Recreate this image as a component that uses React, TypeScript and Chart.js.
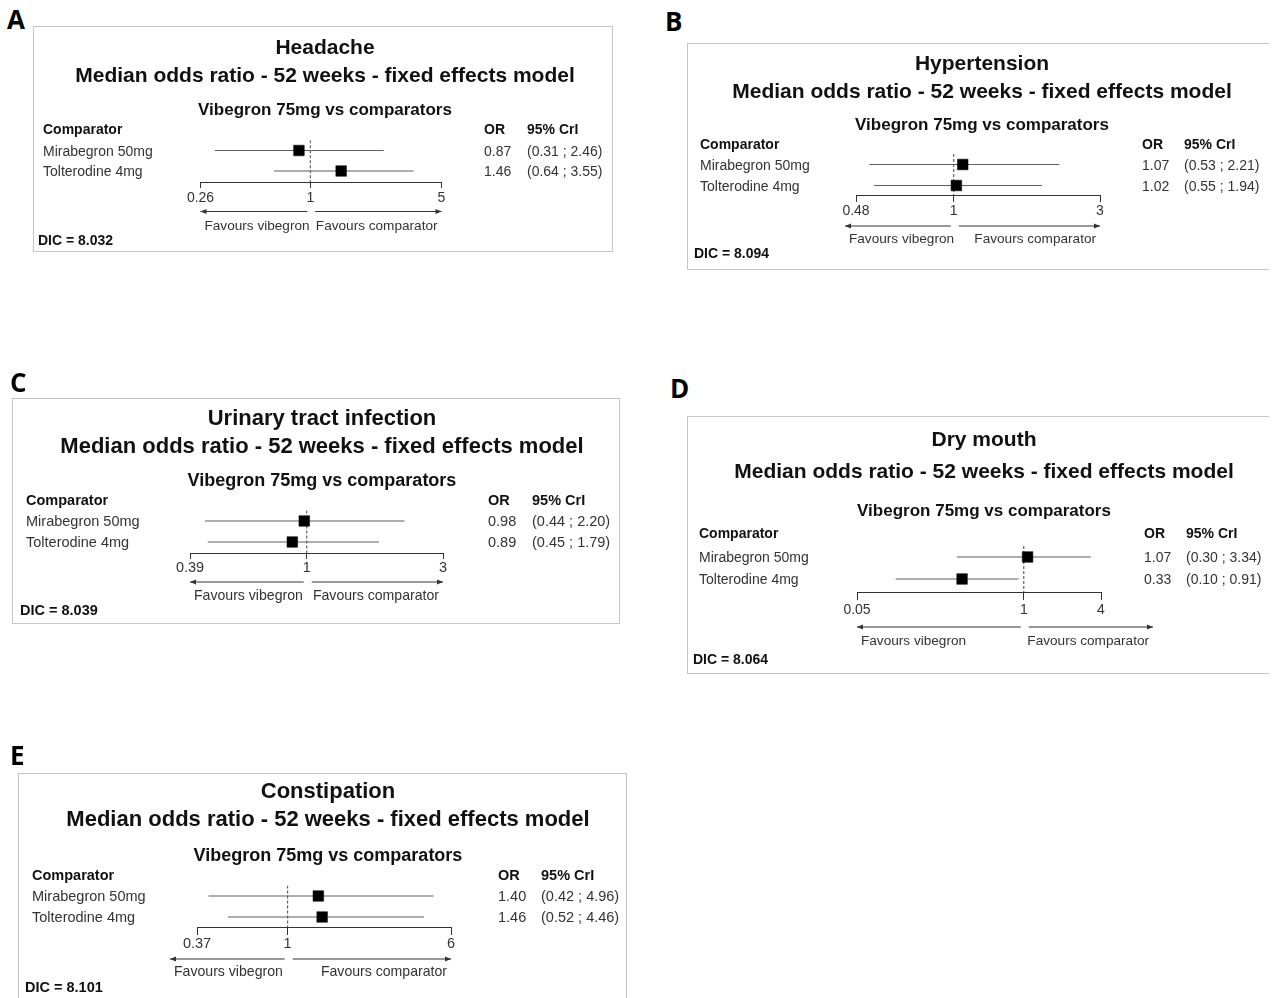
import React, { useEffect, useRef } from "react";
import { Chart, registerables } from "chart.js";

Chart.register(...registerables);

const FONT = "'Liberation Sans', Arial, Helvetica, sans-serif";
const LETTER_FONT = "'Open Sans', 'Liberation Sans', sans-serif";

// ---------------- data ----------------
const comparators = ["Mirabegron 50mg", "Tolterodine 4mg"];
const panelLetters = ["A", "B", "C", "D", "E"];
const outcomes = ["Headache", "Hypertension", "Urinary tract infection", "Dry mouth", "Constipation"];
const modelTitle = "Median odds ratio - 52 weeks - fixed effects model";
const comparisonTitle = "Vibegron 75mg vs comparators";
const leftLabel = "Favours vibegron";
const rightLabel = "Favours comparator";
const dicValues = ["8.032", "8.094", "8.039", "8.064", "8.101"];

const headacheOR = [0.87, 1.46];
const headacheLow = [0.31, 0.64];
const headacheHigh = [2.46, 3.55];
const headacheTicks = [0.26, 1, 5];
const headacheTickLabels = ["0.26", "1", "5"];

const hypertensionOR = [1.07, 1.02];
const hypertensionLow = [0.53, 0.55];
const hypertensionHigh = [2.21, 1.94];
const hypertensionTicks = [0.48, 1, 3];
const hypertensionTickLabels = ["0.48", "1", "3"];

const utiOR = [0.98, 0.89];
const utiLow = [0.44, 0.45];
const utiHigh = [2.2, 1.79];
const utiTicks = [0.39, 1, 3];
const utiTickLabels = ["0.39", "1", "3"];

const dryMouthOR = [1.07, 0.33];
const dryMouthLow = [0.3, 0.1];
const dryMouthHigh = [3.34, 0.91];
const dryMouthTicks = [0.05, 1, 4];
const dryMouthTickLabels = ["0.05", "1", "4"];

const constipationOR = [1.4, 1.46];
const constipationLow = [0.42, 0.52];
const constipationHigh = [4.96, 4.46];
const constipationTicks = [0.37, 1, 6];
const constipationTickLabels = ["0.37", "1", "6"];

const panelData = [
  { or: headacheOR, low: headacheLow, high: headacheHigh, ticks: headacheTicks, tickLabels: headacheTickLabels },
  { or: hypertensionOR, low: hypertensionLow, high: hypertensionHigh, ticks: hypertensionTicks, tickLabels: hypertensionTickLabels },
  { or: utiOR, low: utiLow, high: utiHigh, ticks: utiTicks, tickLabels: utiTickLabels },
  { or: dryMouthOR, low: dryMouthLow, high: dryMouthHigh, ticks: dryMouthTicks, tickLabels: dryMouthTickLabels },
  { or: constipationOR, low: constipationLow, high: constipationHigh, ticks: constipationTicks, tickLabels: constipationTickLabels },
];

// ---------------- layout (page pixel coordinates) ----------------
type Layout = {
  box: { x: number; y: number; w: number; h: number };
  rightBorder: boolean;
  cx: number;
  t1: number; t2: number; sub: number; hdr: number;
  rows: number[];
  axisY: number; tickLabelY: number; tickLen: number;
  arrowY: number; favY: number; dicY: number;
  labelX: number; orX: number; criX: number; dicX: number;
  xMinPx: number; xMaxPx: number;
  arrowL: number; arrowR: number;
  letter: { x: number; cy: number };
  fs: { title: number; sub: number; body: number };
};

const small = { title: 21, sub: 17, body: 14 };
const large = { title: 22, sub: 18, body: 14.5 };

const layouts: Layout[] = [
  {
    box: { x: 33, y: 26, w: 580, h: 226 }, rightBorder: true, cx: 325,
    t1: 46, t2: 74, sub: 109, hdr: 129, rows: [150.5, 171],
    axisY: 182, tickLabelY: 198, tickLen: 6, arrowY: 211.5, favY: 225, dicY: 240,
    labelX: 43, orX: 484, criX: 527, dicX: 38,
    xMinPx: 200.5, xMaxPx: 441.5, arrowL: 200.5, arrowR: 441.5,
    letter: { x: 7, cy: 19.5 }, fs: small,
  },
  {
    box: { x: 687, y: 43, w: 582, h: 227 }, rightBorder: false, cx: 982,
    t1: 62, t2: 90, sub: 124, hdr: 144, rows: [164.5, 185.5],
    axisY: 195, tickLabelY: 211, tickLen: 7, arrowY: 226, favY: 238, dicY: 253,
    labelX: 700, orX: 1142, criX: 1184, dicX: 694,
    xMinPx: 856, xMaxPx: 1100, arrowL: 845, arrowR: 1100,
    letter: { x: 665, cy: 22 }, fs: small,
  },
  {
    box: { x: 12, y: 398, w: 608, h: 226 }, rightBorder: true, cx: 322,
    t1: 417, t2: 445, sub: 480, hdr: 500, rows: [521, 542],
    axisY: 553, tickLabelY: 568, tickLen: 6, arrowY: 582, favY: 595, dicY: 610,
    labelX: 26, orX: 488, criX: 532, dicX: 20,
    xMinPx: 190, xMaxPx: 443, arrowL: 190, arrowR: 443,
    letter: { x: 10, cy: 383 }, fs: large,
  },
  {
    box: { x: 687, y: 416, w: 582, h: 258 }, rightBorder: false, cx: 984,
    t1: 438, t2: 470, sub: 510, hdr: 533, rows: [557, 579],
    axisY: 592, tickLabelY: 610, tickLen: 8, arrowY: 627, favY: 640, dicY: 659,
    labelX: 699, orX: 1144, criX: 1186, dicX: 693,
    xMinPx: 857, xMaxPx: 1101, arrowL: 857, arrowR: 1153,
    letter: { x: 670, cy: 389 }, fs: small,
  },
  {
    box: { x: 18, y: 773, w: 609, h: 240 }, rightBorder: true, cx: 328,
    t1: 790, t2: 818, sub: 855, hdr: 875, rows: [896, 917],
    axisY: 927, tickLabelY: 944, tickLen: 8, arrowY: 959, favY: 971, dicY: 987,
    labelX: 32, orX: 498, criX: 541, dicX: 25,
    xMinPx: 197, xMaxPx: 451, arrowL: 170, arrowR: 451,
    letter: { x: 10, cy: 756 }, fs: large,
  },
];

const X_AXIS_H = 30;

function buildConfig(idx: number): any {
  const d = panelData[idx];
  const L = layouts[idx];
  const s = L.rows[1] - L.rows[0];
  const yMax = 2 + (L.axisY - L.rows[1]) / s;
  const top = L.rows[0] - 0.5 * s;
  const padding = {
    left: L.xMinPx - L.box.x,
    right: L.box.x + L.box.w - L.xMaxPx,
    top: top - L.box.y,
    bottom: L.box.y + L.box.h - L.axisY - X_AXIS_H,
  };
  const tickPad = L.tickLabelY - L.axisY - L.tickLen - 0.6 * L.fs.body;

  const textPlugin = {
    id: "forestText" + idx,
    afterDraw(chart: any) {
      const ctx = chart.ctx;
      const ox = L.box.x;
      const oy = L.box.y;
      const text = (str: string, x: number, yc: number, size: number, bold: boolean, align: string, color: string) => {
        ctx.font = `${bold ? "bold " : ""}${size}px ${FONT}`;
        ctx.textAlign = align;
        ctx.textBaseline = "alphabetic";
        ctx.fillStyle = color;
        ctx.fillText(str, x - ox, yc - oy + 0.36 * size);
      };
      ctx.save();
      const fs = L.fs;
      text(outcomes[idx], L.cx, L.t1, fs.title, true, "center", "#111");
      text(modelTitle, L.cx, L.t2, fs.title, true, "center", "#111");
      text(comparisonTitle, L.cx, L.sub, fs.sub, true, "center", "#111");
      text("Comparator", L.labelX, L.hdr, fs.body, true, "left", "#111");
      text("OR", L.orX, L.hdr, fs.body, true, "left", "#111");
      text("95% CrI", L.criX, L.hdr, fs.body, true, "left", "#111");
      const ys = chart.scales.y;
      comparators.forEach((c, i) => {
        const yc = ys.getPixelForValue(i + 1) + oy;
        text(c, L.labelX, yc, fs.body, false, "left", "#333");
        text(d.or[i].toFixed(2), L.orX, yc, fs.body, false, "left", "#333");
        text(`(${d.low[i].toFixed(2)} ; ${d.high[i].toFixed(2)})`, L.criX, yc, fs.body, false, "left", "#333");
      });
      // arrows
      const xs = chart.scales.x;
      const x1 = xs.getPixelForValue(1) + ox;
      const ay = L.arrowY - oy;
      ctx.strokeStyle = "#333";
      ctx.fillStyle = "#333";
      ctx.lineWidth = 1;
      const arrow = (from: number, to: number) => {
        const a = from - ox;
        const b = to - ox;
        ctx.beginPath();
        ctx.moveTo(a, ay);
        ctx.lineTo(b, ay);
        ctx.stroke();
        const dir = Math.sign(b - a);
        ctx.beginPath();
        ctx.moveTo(b, ay);
        ctx.lineTo(b - dir * 6, ay - 2.5);
        ctx.lineTo(b - dir * 6, ay + 2.5);
        ctx.closePath();
        ctx.fill();
      };
      arrow(x1 - 3, L.arrowL);
      arrow(x1 + 5, L.arrowR);
      const favSize = fs.body - 0.4;
      text(leftLabel, L.arrowL + 4, L.favY, favSize, false, "left", "#333");
      text(rightLabel, L.arrowR - 4, L.favY, favSize, false, "right", "#333");
      text(`DIC = ${dicValues[idx]}`, L.dicX, L.dicY, fs.body, true, "left", "#111");
      ctx.restore();
    },
  };

  return {
    type: "scatter",
    data: {
      datasets: [
        {
          data: [{ x: 1, y: 0.5 }, { x: 1, y: yMax }],
          showLine: true,
          borderColor: "#444",
          borderWidth: 1,
          borderDash: [3, 2],
          pointRadius: 0,
          order: 3,
        },
        ...comparators.map((c, i) => ({
          label: c,
          data: [{ x: d.low[i], y: i + 1 }, { x: d.high[i], y: i + 1 }],
          showLine: true,
          borderColor: "#5e5e5e",
          borderWidth: 1.2,
          pointRadius: 0,
          order: 2,
        })),
        {
          data: d.or.map((v, i) => ({ x: v, y: i + 1 })),
          pointStyle: "rect",
          pointRadius: 7.5,
          backgroundColor: "#000",
          borderColor: "#000",
          pointBorderWidth: 0.5,
          order: 1,
        },
      ],
    },
    options: {
      animation: false,
      responsive: false,
      maintainAspectRatio: false,
      devicePixelRatio: 1,
      events: [],
      layout: { padding },
      plugins: { legend: { display: false }, tooltip: { enabled: false }, title: { display: false } },
      scales: {
        x: {
          type: "logarithmic",
          position: "bottom",
          min: d.ticks[0],
          max: d.ticks[d.ticks.length - 1],
          afterBuildTicks: (sc: any) => {
            sc.ticks = d.ticks.map((v) => ({ value: v }));
          },
          afterFit: (sc: any) => {
            sc.height = X_AXIS_H;
          },
          ticks: {
            autoSkip: false,
            maxRotation: 0,
            minRotation: 0,
            padding: tickPad,
            color: "#333",
            font: { family: FONT, size: L.fs.body },
            callback: (_v: any, i: number) => d.tickLabels[i],
          },
          grid: { drawOnChartArea: false, drawTicks: true, tickLength: L.tickLen, color: "#333", lineWidth: 1 },
          border: { display: true, color: "#333", width: 1 },
        },
        y: { type: "linear", display: false, reverse: true, min: 0.5, max: yMax },
      },
    },
    plugins: [textPlugin],
  };
}

function ForestPanel({ idx }: { idx: number }) {
  const ref = useRef<HTMLCanvasElement | null>(null);
  const L = layouts[idx];
  useEffect(() => {
    const chart = new Chart(ref.current as HTMLCanvasElement, buildConfig(idx));
    return () => chart.destroy();
  }, [idx]);
  return (
    <>
      <canvas
        ref={ref}
        width={L.box.w}
        height={L.box.h}
        style={{ position: "absolute", left: L.box.x, top: L.box.y, width: L.box.w, height: L.box.h }}
      />
      <div
        style={{
          position: "absolute",
          left: L.box.x,
          top: L.box.y,
          width: L.box.w,
          height: L.box.h,
          boxSizing: "border-box",
          border: "1px solid #c6c6c6",
          borderRight: L.rightBorder ? "1px solid #c6c6c6" : "none",
          pointerEvents: "none",
        }}
      />
      <div
        style={{
          position: "absolute",
          left: L.letter.x,
          top: L.letter.cy - 13.8,
          fontFamily: LETTER_FONT,
          fontWeight: 700,
          fontSize: 26,
          lineHeight: "26px",
          color: "#000",
        }}
      >
        {panelLetters[idx]}
      </div>
    </>
  );
}

export default function App() {
  return (
    <div
      style={{
        position: "fixed",
        left: 0,
        top: 0,
        width: 1275,
        height: 998,
        overflow: "hidden",
        background: "#fff",
      }}
    >
      {panelLetters.map((_, i) => (
        <ForestPanel key={i} idx={i} />
      ))}
    </div>
  );
}
